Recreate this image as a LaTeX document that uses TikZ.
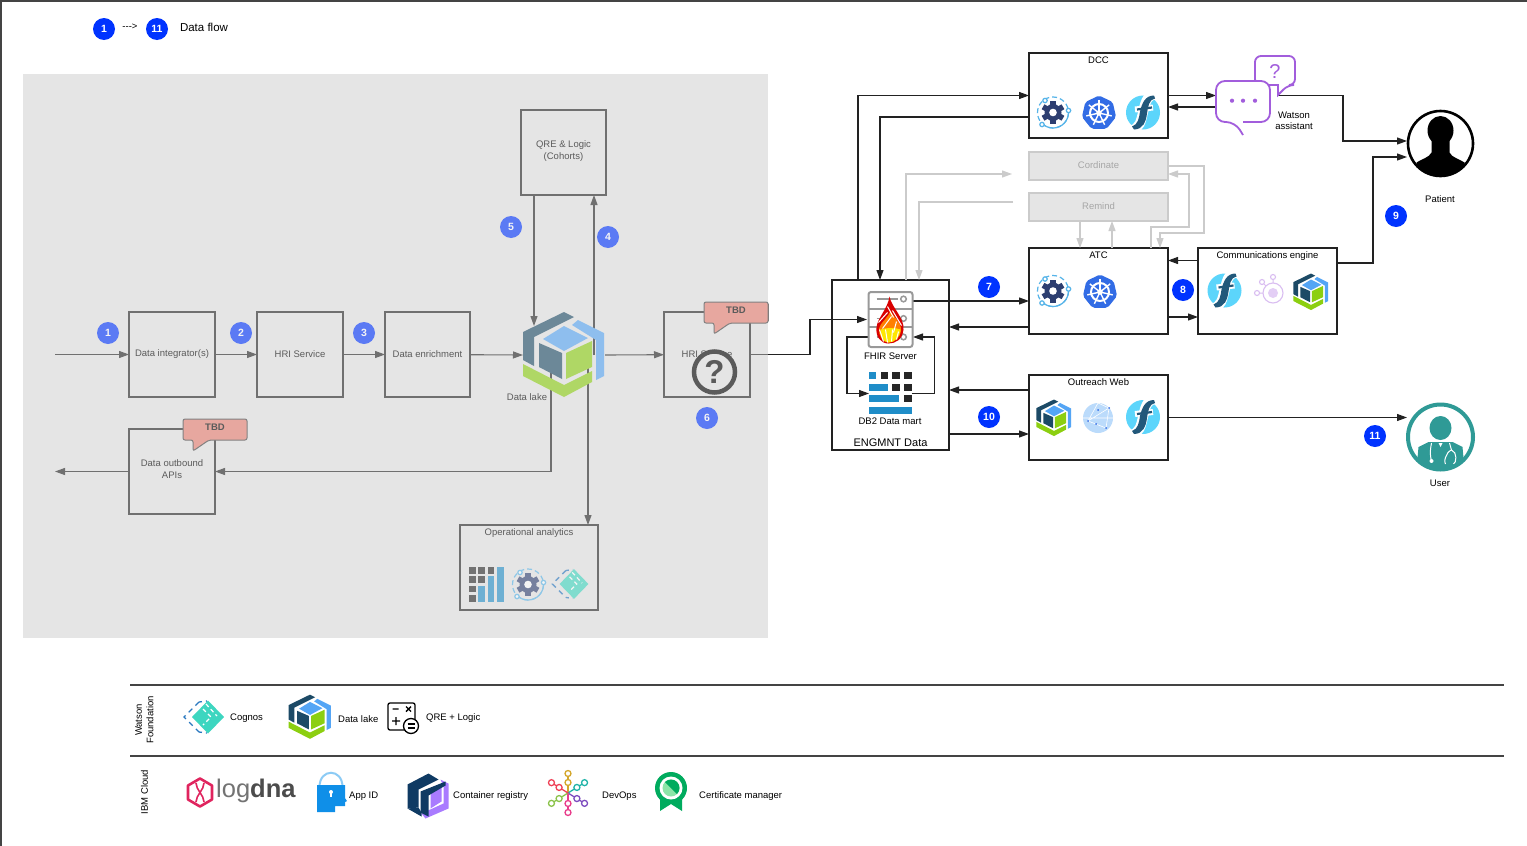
\documentclass[tikz,border=0pt]{standalone}
\usepackage{fontspec}
\setmainfont{Liberation Sans}
\usetikzlibrary{arrows.meta}
\definecolor{panelgray}{HTML}{E5E5E5}
\definecolor{framegray}{HTML}{444444}
\definecolor{linedark}{HTML}{222222}
\definecolor{linelight}{HTML}{CBCBCB}
\definecolor{badgeblue}{HTML}{0033FF}
\definecolor{lakedark}{HTML}{1C4A66}
\definecolor{lakeblue}{HTML}{54A5F5}
\definecolor{lakegreen}{HTML}{8CCF10}
\definecolor{gearnavy}{HTML}{2D3E70}
\definecolor{gearblue}{HTML}{56B4E9}
\definecolor{kubeblue}{HTML}{326CE5}
\definecolor{fcyan}{HTML}{5CD5FB}
\definecolor{fdark}{HTML}{22587A}
\definecolor{dbblue}{HTML}{1F8DC8}
\definecolor{tbdred}{HTML}{E97F71}
\definecolor{watsonpurple}{HTML}{A25DDC}
\definecolor{userteal}{HTML}{2F9A96}
\definecolor{cognosteal}{HTML}{3DD6C0}
\definecolor{cognosblue}{HTML}{2A78C0}
\definecolor{lognpink}{HTML}{E0245E}
\definecolor{appblue}{HTML}{0F8FE8}
\definecolor{appsky}{HTML}{8CCBF5}
\definecolor{regnavy}{HTML}{0F3A63}
\definecolor{regpurple}{HTML}{A97BFF}
\definecolor{certgreen}{HTML}{00AB5E}
\definecolor{certlight}{HTML}{8CE5A8}
\definecolor{devgold}{HTML}{D4A72C}
\definecolor{devteal}{HTML}{1FB3A8}
\definecolor{devpurple}{HTML}{7D4CBF}
\definecolor{devpink}{HTML}{E83E8C}
\definecolor{devgreen}{HTML}{8BC34A}
\definecolor{devred}{HTML}{EF4056}
\tikzset{
  every node/.style={font=\fontsize{9.5}{11.5}\selectfont,inner sep=1pt},
  box/.style={draw=linedark,line width=1.2pt,inner sep=0pt,outer sep=0pt},
  greybox/.style={draw=linelight,fill=panelgray,line width=1.2pt,inner sep=0pt,outer sep=0pt,text=black!35},
  boxtitle/.style={anchor=north,yshift=-2.5pt},
  ghost/.style={inner sep=0pt,outer sep=0pt},
  badge/.style={circle,fill=badgeblue,text=white,font=\fontsize{10.5}{12}\selectfont\bfseries,inner sep=0pt,minimum size=22pt},
  flow/.style={draw=linedark,line width=1.1pt,-{Triangle[length=10pt,width=7pt]}},
  lightflow/.style={draw=linelight,line width=1.1pt,-{Triangle[length=10pt,width=7pt]}},
  lakepic/.pic={
    \fill[lakedark] (-41,-23)--(0,-43)--(10,-38)--(-30,-18)--(-30,11)--(-41,5)--cycle;
    \fill[lakeblue] (14,-35)--(40,-22)--(40,21)--(32,25)--(32,-15)--(8,-30)--cycle;
    \fill[lakeblue] (0,-29)--(24,-17)--(0,-4)--(-21,-16)--cycle;
    \fill[lakedark] (-25,-12)--(-2,-2)--(-2,24)--(-25,12)--cycle;
    \fill[lakegreen] (2,-2)--(28,-14)--(28,12)--(2,24)--cycle;
    \fill[lakegreen] (-41,9)--(0,30)--(28,16)--(28,27)--(0,42)--(-41,21)--cycle;
  },
  gearpic/.pic={
    \draw[gearblue,line width=1.2pt,dash pattern=on 5pt off 3pt] (0,0) circle (15.5);
    \draw[gearblue,line width=1.2pt] (132:15.5) arc (132:-7:15.5);
    \fill[gearnavy] (0,0) circle (8.5);
    \foreach \a in {0,60,...,300} {\fill[gearnavy,rotate=\a] (-2.8,-11.5) rectangle (2.8,-6);}
    \fill[white] (0,0) circle (3.8);
    \draw[gearblue,fill=white,line width=1.2pt] (-8,-12) circle (2.2);
    \draw[gearblue,fill=white,line width=1.2pt] (15.5,-2) circle (2.2);
    \draw[gearblue,fill=white,line width=1.2pt] (-11,12) circle (2.2);
  },
  kubepic/.pic={
    \fill[kubeblue,rounded corners=2pt] (-90:17.5)--(-38.6:17.5)--(12.9:17.5)--(64.3:17.5)--(115.7:17.5)--(167.1:17.5)--(218.6:17.5)--cycle;
    \draw[white,line width=2pt] (0,0) circle (9);
    \fill[white] (0,0) circle (2.8);
    \foreach \a in {-90,-38.6,12.9,64.3,115.7,167.1,218.6} {\draw[white,line width=1.4pt] (0,0)--(\a:13);}
  },
  fpic/.pic={
    \fill[fcyan] (0,0) circle (17);
    \draw[white,line width=10pt] (12,-18) .. controls (3,-17) and (2,-8) .. (0,0) .. controls (-2,8) and (-3,16) .. (-12,18);
    \draw[white,line width=6pt] (-8,-3)--(10,-5);
    \fill[fdark] (11,-17) .. controls (2,-17) and (-1,-9) .. (-3,-1) .. controls (-4,6) and (-5,12) .. (-11,14) -- (-9,17) .. controls (0,17) and (3,9) .. (4,1) .. controls (5,-6) and (6,-13) .. (12,-14) -- cycle;
    \draw[fdark,line width=2.2pt] (-6,-3)--(9,-5);
  },
  barspic/.pic={
    \foreach \x/\y in {0/0,9.3/0,18.6/0,0/9.3,9.3/9.3,0/18.6,0/27.9} {\fill[black!85] (\x,\y) rectangle +(6.8,6.8);}
    \fill[dbblue] (9.3,18.6) rectangle (16.1,35);
    \fill[dbblue] (18.6,9.3) rectangle (25.4,35);
    \fill[dbblue] (27.9,0) rectangle (35,35);
  },
  dbpic/.pic={
    \foreach \x/\y in {11.7/0,23.4/0,35/0,23.4/11.7,35/11.7,35/23.4} {\fill[black!85] (\x,\y) rectangle +(7.5,7);}
    \fill[dbblue] (0,0) rectangle (7,7);
    \fill[dbblue] (0,11.7) rectangle (18.5,18.7);
    \fill[dbblue] (0,23.4) rectangle (30,30.4);
    \fill[dbblue] (0,35) rectangle (42.5,42);
  },
  fhirpic/.pic={
    \draw[black!40,fill=white,line width=2pt,rounded corners=2.5pt] (-22,-27.5) rectangle (22,27.5);
    \draw[black!40,line width=1.6pt] (-22,-10.5)--(22,-10.5) (-22,7.5)--(22,7.5);
    \draw[black!40,line width=1.5pt] (-14,-20.5)--(7,-20.5) (-14,-1)--(7,-1) (-14,17.5)--(7,17.5);
    \foreach \y in {-20.5,-1,17.5} {\draw[black!40,line width=1.5pt,fill=white] (13,\y) circle (2.8);}
    \fill[red!85!black] (-1,-23) .. controls (1,-12) and (14,-2) .. (13,10) .. controls (12,20) and (5,24) .. (-2,24) .. controls (-10,24) and (-15,17) .. (-14,8) .. controls (-13,-2) and (-3,-10) .. (-1,-23)--cycle;
    \fill[orange] (0,-9) .. controls (2,-3) and (11,2) .. (10.5,11) .. controls (9.5,19) and (4,23) .. (-2,23) .. controls (-8,23) and (-12,16) .. (-11.5,9) .. controls (-10,3) and (-2,-2) .. (0,-9)--cycle;
    \fill[yellow!90!orange] (-10,10) .. controls (-4,8) and (5,8) .. (10,10) .. controls (9,18) and (4,23) .. (-2,23) .. controls (-7,23) and (-11,16) .. (-10,10)--cycle;
    \draw[white,line width=1pt] (-12,3)--(-3,-7) (-8,9)--(1,-3) (-3,-13)--(3,-2) (11,6)--(2,-9) (3,13)--(6,2) (-11,10)--(-7,22) (-5,10)--(-3,23) (2,10)--(1,22) (8,12)--(6,20);
  },
  cognospic/.pic={
    \draw[cognosblue,line width=1.3pt,dash pattern=on 5pt off 4.5pt] (-9,-15)--(-24,0)--(-9,15);
    \draw[cognosblue,line width=1.3pt,dash pattern=on 3pt off 4pt] (-9,-15)--(-1,-16) (-9,15)--(-1,16);
    \fill[cognosteal] (0,-16.5)--(16,0)--(0,16.5)--(-16,0)--cycle;
    \draw[white,line width=1.2pt,dash pattern=on 4pt off 3pt] (-5,-8)--(3,0)--(-5,8);
    \draw[white,line width=1.2pt,dash pattern=on 4pt off 3pt] (-2,-13)--(9,-1);
  },
  qrepic/.pic={
    \draw[black,line width=1.3pt,fill=white,rounded corners=2pt] (-15,-14) rectangle (12,13);
    \draw[black,line width=1.4pt] (-10.5,-8)--(-4.5,-8) (3,-10.5)--(8,-5.5) (3,-5.5)--(8,-10.5) (-11,4)--(-3,4) (-7,0)--(-7,8);
    \draw[black,line width=1.3pt,fill=white] (8,9) circle (7.5);
    \draw[black,line width=1.4pt] (4.5,7)--(11.5,7) (4.5,11)--(11.5,11);
  },
  apppic/.pic={
    \draw[appsky,line width=2pt] (-11.5,-5) .. controls (-11.5,-24) and (11.5,-24) .. (11.5,-5);
    \fill[appblue] (-14,-7)--(14,-7)--(14,6)--(16,9)--(14,10)--(14,14)--(4,14)--(4,20)--(-14,20)--cycle;
    \fill[white] (0,0) circle (2);
    \fill[white] (-1,0) rectangle (1,5);
  },
  regpic/.pic={
    \fill[regpurple] (13,-16)--(21,-12)--(21,13)--(-2,23)--(-6,18)--(16,8)--(16,-9)--cycle;
    \fill[regpurple] (3,-2)--(14,-9)--(14,6)--(3,13)--cycle;
    \fill[regnavy] (-20,-11)--(1,-22)--(11,-16)--(-9,-6)--(-9,12)--(-20,13)--cycle;
    \fill[regnavy] (-20,13)--(-9,12)--(-6,17)--(-6,21)--cycle;
    \fill[regnavy] (-7,-4)--(18,-14)--(18,-10)--(1,0)--(1,21)--(-7,17)--cycle;
  },
  devopspic/.pic={
    \foreach \a/\c in {-90/devgold,-32/devteal,32/devpurple,90/devpink,148/devgreen,212/devred} {
      \draw[\c,line width=1.3pt] (0,0)--(\a:19);
      \draw[\c,line width=1.3pt,fill=white] (\a:10.5) circle (3);
      \draw[\c,line width=1.3pt,fill=white] (\a:19.5) circle (3);
    }
  },
  certpic/.pic={
    \fill[certgreen] (-11,6)--(-11,23)--(0,16)--(11,23)--(11,6)--cycle;
    \fill[certgreen] (0,0) circle (16);
    \fill[white] (0,0) circle (11.5);
    \fill[certlight] (0,0) circle (8.5);
    \fill[certgreen] (225:8.5) arc (225:405:8.5)--cycle;
  },
  patientpic/.pic={
    \begin{scope}
      \clip (0,0) circle (32);
      \fill[black] (0,-13) ellipse (13 and 14.5);
      \fill[black] (-9,-6)--(9,-6)--(9,9) .. controls (11,14) and (20,16) .. (24,19)--(24,33)--(-24,33)--(-24,19) .. controls (-20,16) and (-11,14) .. (-9,9)--cycle;
    \end{scope}
    \draw[black,line width=2.6pt] (0,0) circle (32.5);
  },
  userpic/.pic={
    \begin{scope}
      \clip (0,0) circle (32);
      \fill[userteal] (0,-9) ellipse (11 and 12);
      \fill[userteal] (-12,5)--(12,5)--(22,10)--(24,32)--(-24,32)--(-22,10)--cycle;
      \draw[white,line width=1pt] (-9,6) .. controls (-11,16) and (-10,20) .. (-9,24);
      \fill[white] (-9,24) circle (2);
      \fill[white] (-2,6)--(2,6)--(0,10)--cycle;
      \draw[white,line width=1pt] (9,6)--(11,13);
      \draw[white,line width=1pt] (11,13) .. controls (5,15) and (3,26) .. (5,27) (11,13) .. controls (17,15) and (16,26) .. (13,27);
    \end{scope}
    \draw[userteal,line width=4pt] (0,0) circle (32.5);
  },
  watsonpic/.pic={
    \draw[watsonpurple,line width=1.8pt,fill=white,rounded corners=6pt] (39,-39)--(79,-39)--(79,-10)--(72,-10)[sharp corners]--(62,0)--(62,-10)[rounded corners=6pt]--(39,-10)--cycle;
    \draw[watsonpurple,line width=1.8pt,fill=white,rounded corners=9pt] (27,27)--(54,27)--(54,-14)--(0,-14)--(0,27)--(19,27)[sharp corners]--(27,40);
    \foreach \x in {16,27,39} {\fill[watsonpurple] (\x,5.7) circle (2.1);}
  },
}
\begin{document}
\begin{tikzpicture}[x=1pt,y=-1pt]
\useasboundingbox (0,0) rectangle (1527,846);
\fill[white] (0,0) rectangle (1527,846);
\fill[framegray] (0,0) rectangle (1527,2);
\fill[framegray] (0,0) rectangle (2,846);
\node[badge] (legendone) at (104,29) {1};
\node (legendarrow) at (130,26.5) {-{}-{}->};
\node[badge] (legendeleven) at (157,29) {11};
\node[font=\fontsize{11.5}{13}\selectfont] (legendtext) at (204,27.5) {Data flow};
\fill[panelgray] (23,74) rectangle (768,638);
\node[box,minimum width=86pt,minimum height=85pt] (integrator) at (172,354.5) {Data integrator(s)};
\node[box,minimum width=86pt,minimum height=85pt] (hrisvc) at (300,354.5) {HRI Service};
\node[box,minimum width=85pt,minimum height=85pt] (enrich) at (427.5,354.5) {Data enrichment};
\node[box,minimum width=86pt,minimum height=85pt] (hri) at (707,354.5) {HRI Service};
\node[box,minimum width=86pt,minimum height=85pt] (outbound) at (172,471.5) {};
\node[align=center] (outboundtext) at (172,469) {Data outbound\\APIs};
\node[box,minimum width=85pt,minimum height=85pt] (qre) at (563.5,152.5) {};
\node[align=center] (qretext) at (563.5,151) {QRE \& Logic\\(Cohorts)};
\node[box,minimum width=138pt,minimum height=85pt] (ops) at (529,567.5) {};
\node[boxtitle] (opstitle) at (ops.north) {Operational analytics};
\node[ghost,minimum width=82pt,minimum height=86pt] (lake) at (564,355) {};
\node (laketext) at (527,397) {Data lake};
\coordinate (instart) at (55,354.5);
\coordinate (outend) at (55,471.5);
\coordinate (lakeup) at ([xshift=30pt]lake.center);
\coordinate (lakedown) at ([xshift=24pt]lake.center);
\coordinate (lakeleft) at ([xshift=-13pt]lake.center);
\coordinate (qreleft) at ([xshift=-29.5pt]qre.south);
\coordinate (laketop) at (534,326);
\coordinate (hribend) at (810,354.5);
\draw[flow] (instart) -- (integrator);
\draw[flow] (integrator) -- (hrisvc);
\draw[flow] (hrisvc) -- (enrich);
\draw[flow] (enrich) -- (lake.west);
\draw[flow] (lake.east) -- (hri);
\draw[flow] (hri.east) -- (hribend) |- (867,319.5);
\draw[flow] (lakeup) -- (lakeup |- qre.south);
\draw[flow] (qreleft) -- (laketop);
\draw[flow] (lakedown) -- (lakedown |- ops.north);
\draw[flow] (lakeleft) |- (outbound.east);
\draw[flow] (outbound.west) -- (outend);
\pic at (564,355) {lakepic};
\pic at (469,567) {barspic};
\pic at (528,584.5) {gearpic};
\pic[scale=0.9] at (574,584) {cognospic};
\node[circle,draw=black,fill=panelgray,line width=4.5pt,minimum size=41pt,inner sep=0pt,font=\fontsize{33}{33}\selectfont\bfseries] (hriq) at (714.5,372) {?};
\draw[draw=black!75,fill=tbdred,line width=1pt,rounded corners=2pt] (704,302) -- (768,302) -- (768,323) -- (730,323) -- (714,334) -- (714,323) -- (704,323) -- cycle;
\node[font=\fontsize{9.5}{11}\selectfont\bfseries] (tbdone) at (736,310.5) {TBD};
\draw[draw=black!75,fill=tbdred,line width=1pt,rounded corners=2pt] (183,419) -- (247,419) -- (247,440) -- (209,440) -- (193,451) -- (193,440) -- (183,440) -- cycle;
\node[font=\fontsize{9.5}{11}\selectfont\bfseries] (tbdtwo) at (215,427.5) {TBD};
\node[badge] (one) at (108,333) {1};
\node[badge] (two) at (241,333) {2};
\node[badge] (three) at (364,333) {3};
\node[badge] (four) at (608,237) {4};
\node[badge] (five) at (511,227) {5};
\node[badge] (six) at (707,418) {6};
\fill[panelgray,opacity=0.4] (23,74) rectangle (768,638);
\node[box,minimum width=139pt,minimum height=85pt] (dcc) at (1098.5,95.5) {};
\node[boxtitle] (dcctitle) at (dcc.north) {DCC};
\node[greybox,minimum width=139pt,minimum height=28pt] (cordinate) at (1098.5,166) {\raisebox{1.5pt}{Cordinate}};
\node[greybox,minimum width=139pt,minimum height=28pt] (remind) at (1098.5,207) {\raisebox{1.5pt}{Remind}};
\node[box,minimum width=139pt,minimum height=86pt] (atc) at (1098.5,291) {};
\node[boxtitle] (atctitle) at (atc.north) {ATC};
\node[box,minimum width=139pt,minimum height=86pt] (comm) at (1267.5,291) {};
\node[boxtitle] (commtitle) at (comm.north) {Communications engine};
\node[box,minimum width=139pt,minimum height=85pt] (outreach) at (1098.5,417.5) {};
\node[boxtitle] (outreachtitle) at (outreach.north) {Outreach Web};
\node[box,minimum width=117pt,minimum height=170pt] (engmnt) at (890.5,365) {};
\node[font=\fontsize{11}{13}\selectfont] (engmnttext) at (890.5,443) {ENGMNT Data};
\node[ghost,minimum width=45pt,minimum height=55pt] (fhir) at (890.5,319.5) {};
\node[ghost,minimum width=43pt,minimum height=43pt] (db2) at (890.5,393.5) {};
\node (fhirtext) at (890.5,356) {FHIR Server};
\node (db2text) at (890,421.5) {DB2 Data mart};
\node[ghost,circle,minimum size=67pt] (patient) at (1440.5,143.5) {};
\node[ghost,circle,minimum size=67pt] (user) at (1440.5,437) {};
\node (patienttext) at (1440,199) {Patient};
\node (usertext) at (1440,483.5) {User};
\node[ghost,minimum width=55pt,minimum height=41pt] (watson) at (1243.5,101.5) {};
\node[align=center] (watsontext) at (1294,121) {Watson\\assistant};
\coordinate (watsontail) at (1278,95.5);
\coordinate (remotetop) at (1012,174);
\coordinate (remotelow) at (1013,202);
\draw[flow] ([xshift=26pt]engmnt.north west) |- (dcc.west);
\draw[flow] ([yshift=-21.5pt]dcc.west) -| ([xshift=48pt]engmnt.north west);
\draw[lightflow] ([xshift=74pt]engmnt.north west) |- (remotetop);
\draw[lightflow] (remotelow) -| ([xshift=87pt]engmnt.north west);
\draw[lightflow] ([xshift=-18.5pt]remind.south) -- ([xshift=-18.5pt]atc.north);
\draw[lightflow] ([xshift=13.5pt]atc.north) -- ([xshift=13.5pt]remind.south);
\draw[lightflow] ([xshift=52.5pt]atc.north) |- (1189,227) |- ([yshift=-8pt]cordinate.east);
\draw[lightflow] (cordinate.east) -- (1204,166) |- (1160,233) -- ([xshift=61.5pt]atc.north);
\draw[flow] ([yshift=18.5pt]fhir.east) -- ([yshift=18.5pt]fhir.east -| atc.west);
\draw[flow] ([yshift=-36pt]atc.west) -- ([yshift=-36pt]atc.west -| engmnt.east);
\draw[flow] ([yshift=27.5pt]outreach.west) -- ([yshift=27.5pt]outreach.west -| engmnt.east);
\draw[flow] ([yshift=-16.5pt]engmnt.east |- outreach.west) -- ([yshift=-16.5pt]outreach.west);
\draw[flow] ([yshift=-17.5pt]fhir.west) -- ++(-21,0) |- (db2.west);
\draw[flow] (db2.east) -- ++(22.5,0) |- ([yshift=-17.5pt]fhir.east);
\draw[flow] (dcc.east) -- (dcc.east -| watson.west);
\draw[flow] ([yshift=-5.5pt]watson.west) -- ([yshift=-5.5pt]watson.west -| dcc.east);
\draw[flow] (watsontail) -- (1343,95.5) |- ([yshift=2.5pt]patient.west);
\draw[flow] ([yshift=28pt]comm.east) -- ++(36,0) |- ([yshift=-13.5pt]patient.west);
\draw[flow] ([yshift=30.5pt]comm.west) -- ([yshift=30.5pt]comm.west -| atc.east);
\draw[flow] ([yshift=-26pt]atc.east) -- ([yshift=-26pt]atc.east -| comm.west);
\draw[flow] (outreach.east) -- (outreach.east -| user.west);
\pic at (1053,112.5) {gearpic};
\pic at (1099,113) {kubepic};
\pic at (1143,112.5) {fpic};
\pic at (1053,291) {gearpic};
\pic at (1100,292) {kubepic};
\pic at (1224.5,290.5) {fpic};
\draw[watsonpurple!40,line width=1pt] (1273,277) -- (1273,293) (1257,293) -- (1273,293) (1262,282) -- (1273,293);
\draw[watsonpurple!40,line width=1.1pt,fill=white] (1273,293) circle (10);
\fill[watsonpurple!30] (1273,293) circle (5);
\draw[watsonpurple!40,line width=1.1pt,fill=white] (1273,277) circle (2.5) (1257,293) circle (2.5) (1262,282) circle (2.5);
\pic[scale=0.43] at (1311,292) {lakepic};
\pic[scale=0.43] at (1054,418) {lakepic};
\fill[lakeblue!40] (1098,418) circle (15);
\draw[white,line width=0.6pt] (1098,403) -- (1088,421) -- (1106,428) -- (1109,408) -- cycle (1088,421) -- (1109,408) (1083,418) -- (1113,418);
\fill[kubeblue] (1098,410) circle (1) (1088,421) circle (1) (1106,428) circle (1) (1109,408) circle (1) (1096,424) circle (1);
\pic at (1143,417) {fpic};
\pic at (890.5,319.5) {fhirpic};
\pic at (869,372) {dbpic};
\pic at (1216,95) {watsonpic};
\node[font=\fontsize{20}{20}\selectfont,text=watsonpurple] (watsonq) at (1275,71.5) {?};
\pic at (1440.5,143.5) {patientpic};
\pic at (1440.5,437) {userpic};
\node[badge] (seven) at (989,287) {7};
\node[badge] (eight) at (1183,290) {8};
\node[badge] (nine) at (1396,216) {9};
\node[badge] (ten) at (989,417) {10};
\node[badge] (eleven) at (1375,436) {11};
\coordinate (lineone) at (130,685);
\coordinate (linetwo) at (130,756);
\draw[framegray,line width=1.3pt] (lineone) -- (1504,685);
\draw[framegray,line width=1.3pt] (linetwo) -- (1504,756);
\node[rotate=90,align=center] (watsonlabel) at (144.5,720) {Watson\\Foundation};
\node[rotate=90] (ibmlabel) at (144.5,792) {IBM Cloud};
\pic at (208,717) {cognospic};
\node[anchor=west] (cognostext) at (229,718) {Cognos};
\pic[scale=0.52] at (310,717) {lakepic};
\node[anchor=west] (laketwotext) at (337,719) {Data lake};
\pic at (403,717) {qrepic};
\node[anchor=west] (qretext2) at (425,718) {QRE + Logic};
\draw[lognpink,line width=2.6pt,line join=round] (200,778.5) -- (212,785.5) -- (212,799.5) -- (200,806.5) -- (188,799.5) -- (188,785.5) -- cycle;
\draw[lognpink,line width=1.6pt] (196,783) .. controls (196,790) and (204,795) .. (204,802) (204,783) .. controls (204,790) and (196,795) .. (196,802);
\node[anchor=west,inner sep=0pt,font=\fontsize{25.5}{28}\selectfont,text=black!55] (logdna) at (216,791) {log{\bfseries\color{black!70}dna}};
\pic at (331,792) {apppic};
\node[anchor=west] (apptext) at (348,796) {App ID};
\pic at (427.5,795.5) {regpic};
\node[anchor=west] (regtext) at (452,796) {Container registry};
\pic at (568,793) {devopspic};
\node[anchor=west] (devopstext) at (601,796) {DevOps};
\pic at (671,788) {certpic};
\node[anchor=west] (certtext) at (698,796) {Certificate manager};
\end{tikzpicture}
\end{document}
